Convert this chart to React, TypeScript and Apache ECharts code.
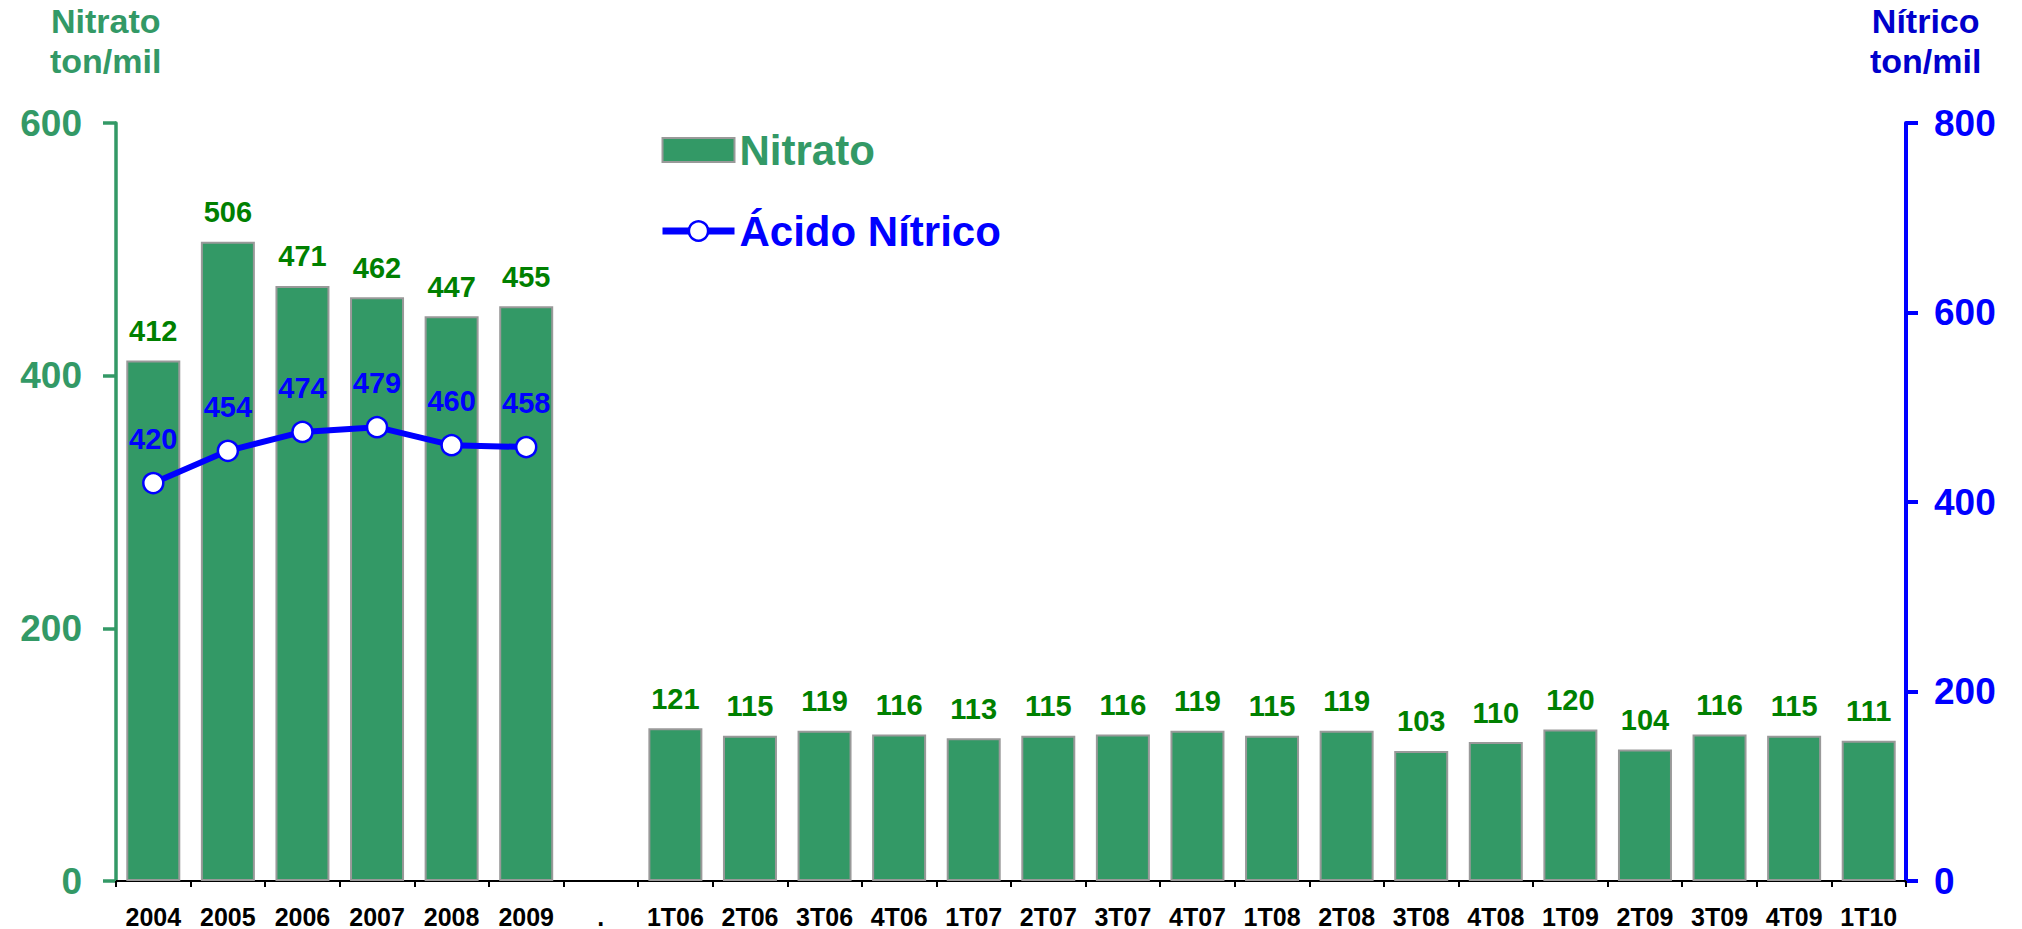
import React, { useEffect, useRef } from "react";
import * as echarts from "echarts";

const categories = [
  "2004", "2005", "2006", "2007", "2008", "2009", ".",
  "1T06", "2T06", "3T06", "4T06", "1T07", "2T07", "3T07", "4T07",
  "1T08", "2T08", "3T08", "4T08", "1T09", "2T09", "3T09", "4T09", "1T10",
];
const nitratoValues = [
  412, 506, 471, 462, 447, 455, null,
  121, 115, 119, 116, 113, 115, 116, 119,
  115, 119, 103, 110, 120, 104, 116, 115, 111,
];
const acidoValues = [
  420, 454, 474, 479, 460, 458, null,
  null, null, null, null, null, null, null, null,
  null, null, null, null, null, null, null, null, null,
];
const leftTicks = { min: 0, max: 600, interval: 200 };
const rightTicks = { min: 0, max: 800, interval: 200 };

const GREEN = "#339966";
const LABEL_GREEN = "#008000";
const BLUE = "#0000FF";
const FONT = "'Liberation Sans', Arial, sans-serif";

export default function App() {
  const ref = useRef<HTMLDivElement>(null);
  useEffect(() => {
    if (!ref.current) return;
    const chart = echarts.init(ref.current, undefined, { renderer: "svg" });
    chart.setOption({
      animation: false,
      backgroundColor: "#ffffff",
      textStyle: { fontFamily: FONT },
      grid: { left: 116, right: 116, top: 123, bottom: 47, containLabel: false },
      legend: {
        orient: "vertical",
        left: 654,
        top: 123,
        itemWidth: 72,
        itemHeight: 24,
        itemGap: 37,
        selectedMode: false,
        textStyle: { fontSize: 42, fontWeight: "bold", fontFamily: FONT, lineHeight: 44 },
        data: [
          {
            name: "Nitrato",
            icon: "rect",
            itemStyle: { color: GREEN, borderColor: "#999999", borderWidth: 2 },
            textStyle: { color: GREEN, fontSize: 42, fontWeight: "bold" },
          },
          {
            name: "Ácido Nítrico",
            lineStyle: { color: BLUE, width: 7 },
            itemStyle: { color: "#ffffff", borderColor: BLUE, borderWidth: 2.5 },
            textStyle: { color: BLUE, fontSize: 42, fontWeight: "bold" },
          },
        ],
      },
      graphic: [
        {
          type: "text",
          left: 50,
          top: 1,
          style: {
            text: "Nitrato\nton/mil",
            fill: GREEN,
            font: `bold 34px ${FONT}`,
            lineHeight: 40,
            textAlign: "center",
          },
        },
        {
          type: "text",
          left: 1870,
          top: 1,
          style: {
            text: "Nítrico\nton/mil",
            fill: "#0000CC",
            font: `bold 34px ${FONT}`,
            lineHeight: 40,
            textAlign: "center",
          },
        },
      ],
      xAxis: {
        type: "category",
        data: categories,
        boundaryGap: true,
        axisLine: { show: true, lineStyle: { color: "#000000", width: 2 } },
        axisTick: { show: true, inside: false, length: 6, lineStyle: { color: "#000000", width: 2 } },
        axisLabel: {
          interval: 0,
          margin: 23,
          color: "#000000",
          fontSize: 25,
          fontWeight: "bold",
          fontFamily: FONT,
        },
        splitLine: { show: false },
      },
      yAxis: [
        {
          type: "value",
          position: "left",
          min: leftTicks.min,
          max: leftTicks.max,
          interval: leftTicks.interval,
          axisLine: { show: true, lineStyle: { color: GREEN, width: 3.5 } },
          axisTick: { show: true, inside: false, length: 13, lineStyle: { color: GREEN, width: 3.5 } },
          axisLabel: { margin: 34, color: GREEN, fontSize: 37, fontWeight: "bold", fontFamily: FONT },
          splitLine: { show: false },
        },
        {
          type: "value",
          position: "right",
          min: rightTicks.min,
          max: rightTicks.max,
          interval: rightTicks.interval,
          axisLine: { show: true, lineStyle: { color: BLUE, width: 4 } },
          axisTick: { show: true, inside: false, length: 12, lineStyle: { color: BLUE, width: 4 } },
          axisLabel: { margin: 28, color: BLUE, fontSize: 37, fontWeight: "bold", fontFamily: FONT },
          splitLine: { show: false },
        },
      ],
      series: [
        {
          name: "Nitrato",
          type: "bar",
          yAxisIndex: 0,
          data: nitratoValues,
          barWidth: 54,
          itemStyle: { color: GREEN, borderColor: "#999999", borderWidth: 2 },
          label: {
            show: true,
            position: "top",
            distance: 15,
            color: LABEL_GREEN,
            fontSize: 29,
            fontWeight: "bold",
            fontFamily: FONT,
          },
        },
        {
          name: "Ácido Nítrico",
          type: "line",
          yAxisIndex: 1,
          data: acidoValues,
          connectNulls: false,
          symbol: "circle",
          symbolSize: 20,
          lineStyle: { color: BLUE, width: 6 },
          itemStyle: { color: "#ffffff", borderColor: BLUE, borderWidth: 2.5 },
          label: {
            show: true,
            position: "top",
            distance: 18,
            color: BLUE,
            fontSize: 29,
            fontWeight: "bold",
            fontFamily: FONT,
          },
          z: 5,
        },
      ],
    });
    return () => chart.dispose();
  }, []);
  return (
    <div
      ref={ref}
      style={{ position: "fixed", left: 0, top: 0, width: 2022, height: 929 }}
    />
  );
}
